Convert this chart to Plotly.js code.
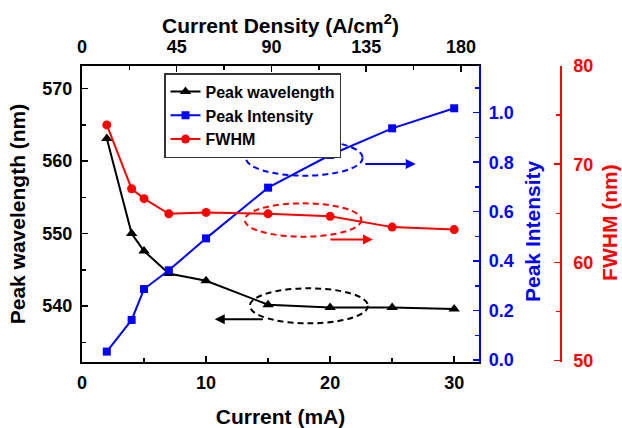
<!DOCTYPE html>
<html>
<head>
<meta charset="utf-8">
<script src="https://cdn.plot.ly/plotly-3.0.1.min.js"></script>
<style>body{margin:0;background:#fff}#chart{width:622px;height:428px}</style>
</head>
<body>
<div id="chart"></div>
<script>
// ---- data ----
const current = [2, 4, 5, 7, 10, 15, 20, 25, 30];                 // mA
const peakWavelength = [563.1, 550.0, 547.6, 544.5, 543.5, 540.2, 539.8, 539.8, 539.6]; // nm
const peakIntensity = [0.034, 0.162, 0.287, 0.363, 0.492, 0.697, 0.829, 0.937, 1.018];
const fwhm = [74.0, 67.5, 66.5, 64.95, 65.1, 64.95, 64.7, 63.6, 63.35];   // nm

const currentTicks = [0, 10, 20, 30];
const densityTicks = [0, 45, 90, 135, 180];
const wavelengthTicks = [540, 550, 560, 570];
const intensityTicks = [0, 0.2, 0.4, 0.6, 0.8, 1.0];
const fwhmTicks = [50, 60, 70, 80];

const F = "Liberation Sans, Arial, Helvetica, sans-serif";
const BLUE = '#0000ff', RED = '#ff0000', BLACK = '#000000';

function tf(size, color) { return {family: F, size: size, color: color, weight: 'bold'}; }

const traces = [
  {x: current, y: peakWavelength, name: 'Peak wavelength', type: 'scatter', mode: 'lines+markers',
   xaxis: 'x', yaxis: 'y', line: {color: BLACK, width: 2},
   marker: {symbol: 'triangle-up', size: 10, color: BLACK}},
  {x: current, y: peakIntensity, name: 'Peak Intensity', type: 'scatter', mode: 'lines+markers',
   xaxis: 'x', yaxis: 'y2', line: {color: BLUE, width: 2},
   marker: {symbol: 'square', size: 8, color: BLUE}},
  {x: current, y: fwhm, name: 'FWHM', type: 'scatter', mode: 'lines+markers',
   xaxis: 'x', yaxis: 'y3', line: {color: RED, width: 2},
   marker: {symbol: 'circle', size: 9, color: RED}},
  {x: [], y: [], xaxis: 'x2', yaxis: 'y', showlegend: false, hoverinfo: 'skip', type: 'scatter'}
];

const common = {ticks: 'inside', ticklen: 6, tickwidth: 1.5, showline: true, linewidth: 2.2,
                showgrid: false, zeroline: false};

const layout = {
  width: 622, height: 428,
  margin: {l: 82, r: 40, t: 66, b: 66},
  paper_bgcolor: 'white', plot_bgcolor: 'white',
  font: tf(18, BLACK),
  showlegend: true,
  legend: {x: 0.164, y: 0.976, xanchor: 'left', yanchor: 'top', bgcolor: 'white',
           bordercolor: '#333', borderwidth: 1.5, font: tf(16, BLACK), tracegroupgap: 0,
           traceorder: 'normal'},
  xaxis: Object.assign({}, common, {
    domain: [0, 0.794], range: [0, 32], tickmode: 'array', tickvals: currentTicks,
    linecolor: BLACK, tickcolor: BLACK, tickfont: tf(18, BLACK), ticklabelstandoff: 3,
    minor: {tickmode: 'array', tickvals: [5, 15, 25], ticks: 'inside', ticklen: 4, tickwidth: 1.5, tickcolor: BLACK},
    title: {text: 'Current (mA)', font: tf(21, BLACK), standoff: 18}
  }),
  xaxis2: Object.assign({}, common, {
    overlaying: 'x', side: 'top', anchor: 'y', range: [0, 188.6], tickmode: 'array', tickvals: densityTicks,
    linecolor: BLACK, tickcolor: BLACK, tickfont: tf(18, BLACK), ticklabelstandoff: 4,
    minor: {tickmode: 'array', tickvals: [22.5, 67.5, 112.5, 157.5], ticks: 'inside', ticklen: 4, tickwidth: 1.5, tickcolor: BLACK}
  }),
  yaxis: Object.assign({}, common, {
    range: [532.3, 573.1], tickmode: 'array', tickvals: wavelengthTicks,
    linecolor: BLACK, tickcolor: BLACK, tickfont: tf(18, BLACK), ticklabelstandoff: 4,
    minor: {tickmode: 'array', tickvals: [535, 545, 555, 565], ticks: 'inside', ticklen: 4, tickwidth: 1.5, tickcolor: BLACK},
    title: {text: 'Peak wavelength (nm)', font: tf(21, BLACK), standoff: 11}
  }),
  yaxis2: Object.assign({}, common, {
    overlaying: 'y', side: 'right', anchor: 'x', range: [-0.008, 1.189], tickmode: 'array',
    tickvals: intensityTicks, tickformat: '.1f',
    linecolor: BLUE, tickcolor: BLUE, tickfont: tf(18, BLUE), ticklabelstandoff: 4,
    minor: {tickmode: 'array', tickvals: [0.1, 0.3, 0.5, 0.7, 0.9, 1.1], ticks: 'inside', ticklen: 4, tickwidth: 1.5, tickcolor: BLUE}
  }),
  yaxis3: Object.assign({}, common, {
    overlaying: 'y', side: 'right', anchor: 'free', position: 0.957, range: [49.87, 80.0], tickmode: 'array',
    tickvals: fwhmTicks,
    linecolor: RED, tickcolor: RED, tickfont: tf(18, RED), ticklabelstandoff: 8,
    minor: {tickmode: 'array', tickvals: [55, 65, 75], ticks: 'inside', ticklen: 4, tickwidth: 1.5, tickcolor: RED}
  }),
  shapes: [
    {type: 'circle', xref: 'x', yref: 'y', x0: 13.2, x1: 22.62, y0: 557.98, y1: 562.9,
     line: {color: BLUE, width: 2, dash: '6px,4px'}},
    {type: 'circle', xref: 'x', yref: 'y', x0: 13.12, x1: 22.52, y0: 549.57, y1: 554.17,
     line: {color: RED, width: 2, dash: '6px,4px'}},
    {type: 'circle', xref: 'x', yref: 'y', x0: 13.53, x1: 23.05, y0: 537.63, y1: 542.46,
     line: {color: BLACK, width: 2, dash: '6px,4px'}}
  ],
  annotations: [
    {xref: 'x', yref: 'y', x: 26.9, y: 559.6, axref: 'x', ayref: 'y', ax: 22.52, ay: 559.6,
     text: ' ', showarrow: true, arrowhead: 2, arrowsize: 1, arrowwidth: 2, arrowcolor: BLUE},
    {xref: 'x', yref: 'y', x: 23.45, y: 549.2, axref: 'x', ayref: 'y', ax: 19.7, ay: 549.2,
     text: ' ', showarrow: true, arrowhead: 2, arrowsize: 1, arrowwidth: 2, arrowcolor: RED},
    {xref: 'x', yref: 'y', x: 10.7, y: 538.2, axref: 'x', ayref: 'y', ax: 14.9, ay: 538.2,
     text: ' ', showarrow: true, arrowhead: 2, arrowsize: 1, arrowwidth: 2, arrowcolor: BLACK},
    {xref: 'paper', yref: 'paper', x: 0.397, y: 1.142, xanchor: 'center', yanchor: 'middle',
     text: 'Current Density (A/cm<sup>2</sup>)', showarrow: false, font: tf(21, BLACK)},
    {xref: 'paper', yref: 'paper', x: 0.902, y: 0.4426, xanchor: 'center', yanchor: 'middle',
     text: 'Peak Intensity', textangle: -90, showarrow: false, font: tf(21, BLUE)},
    {xref: 'paper', yref: 'paper', x: 1.056, y: 0.47, xanchor: 'center', yanchor: 'middle',
     text: 'FWHM (nm)', textangle: -90, showarrow: false, font: tf(21, RED)}
  ]
};

Plotly.newPlot('chart', traces, layout, {displayModeBar: false, staticPlot: true});
</script>
</body>
</html>
